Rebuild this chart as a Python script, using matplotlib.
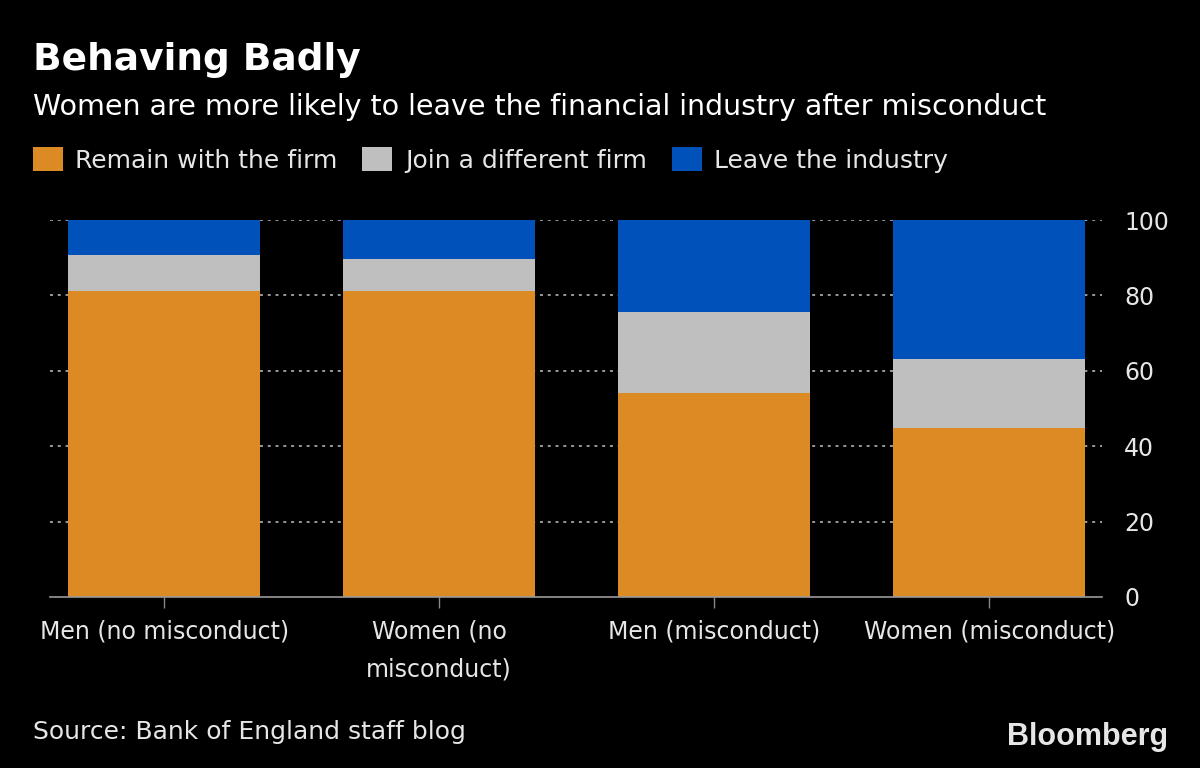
import matplotlib
matplotlib.use('Agg')
import matplotlib.pyplot as plt
from matplotlib.patches import Patch

categories = ['Men (no misconduct)', 'Women (no\nmisconduct)', 'Men (misconduct)', 'Women (misconduct)']
remain = [81.2, 81.2, 54.0, 44.7]
join = [9.5, 8.5, 21.7, 18.3]
leave = [9.3, 10.3, 24.3, 37.0]
series_names = ['Remain with the firm', 'Join a different firm', 'Leave the industry']
yticks = [0, 20, 40, 60, 80, 100]

ORANGE = '#DC8A24'
GRAY = '#BFBFBF'
BLUE = '#0051BA'
TEXT = '#E6E6E6'

plt.rcParams['font.family'] = ['Liberation Sans Narrow', 'DejaVu Sans Condensed', 'DejaVu Sans']

fig = plt.figure(figsize=(12, 7.68), dpi=100, facecolor='black')
ax = fig.add_axes([50 / 1200, 1 - 597 / 768, (1102 - 50) / 1200, (597 - 220) / 768])
ax.set_facecolor('black')

x = list(range(len(categories)))
w = 0.70
ax.bar(x, remain, width=w, color=ORANGE, zorder=3)
ax.bar(x, join, width=w, bottom=remain, color=GRAY, zorder=3)
bottom3 = [a + b for a, b in zip(remain, join)]
ax.bar(x, leave, width=w, bottom=bottom3, color=BLUE, zorder=3)

ax.set_xlim(-0.415, 3.41)
ax.set_ylim(0, 100)

ax.yaxis.tick_right()
ax.set_yticks(yticks)
ax.set_yticklabels([str(t) for t in yticks])
ax.tick_params(axis='y', length=0, pad=16, labelsize=17, labelcolor=TEXT)
ax.set_xticks(x)
ax.set_xticklabels(categories, linespacing=1.75)
ax.tick_params(axis='x', length=8, width=1, color='#888888', pad=8, labelsize=17, labelcolor=TEXT)

for t in yticks[1:]:
    ax.axhline(t, color='#9a9a9a', linestyle=(0, (1.5, 2.5)), linewidth=1.4, zorder=1)

for s in ['top', 'left', 'right']:
    ax.spines[s].set_visible(False)
ax.spines['bottom'].set_color('#9a9a9a')
ax.spines['bottom'].set_linewidth(1.2)
ax.spines['bottom'].set_zorder(4)

fig.text(33 / 1200, 1 - 60 / 768, 'Behaving Badly', color='white', fontsize=27,
         fontweight='bold', va='center', ha='left', family=['DejaVu Sans'])
fig.text(33 / 1200, 1 - 107 / 768, 'Women are more likely to leave the financial industry after misconduct',
         color='white', fontsize=20.5, va='center', ha='left')

handles = [Patch(facecolor=c, edgecolor='none') for c in (ORANGE, GRAY, BLUE)]
leg = fig.legend(handles, series_names, loc='center left', bbox_to_anchor=(10 / 1200, 1 - 160 / 768),
                 ncol=3, frameon=False, fontsize=18, handlelength=1.2, handleheight=1.1,
                 handletextpad=0.5, columnspacing=1.0)
for t in leg.get_texts():
    t.set_color(TEXT)

fig.text(33 / 1200, 1 - 732 / 768, 'Source: Bank of England staff blog', color=TEXT,
         fontsize=18, va='center', ha='left')
fig.text(1168 / 1200, 1 - 737 / 768, 'Bloomberg', color='#E6E6E6', fontsize=22,
         fontweight='bold', va='center', ha='right', family=['Liberation Sans', 'DejaVu Sans'])

fig.savefig('out.png', dpi=100, facecolor='black')
